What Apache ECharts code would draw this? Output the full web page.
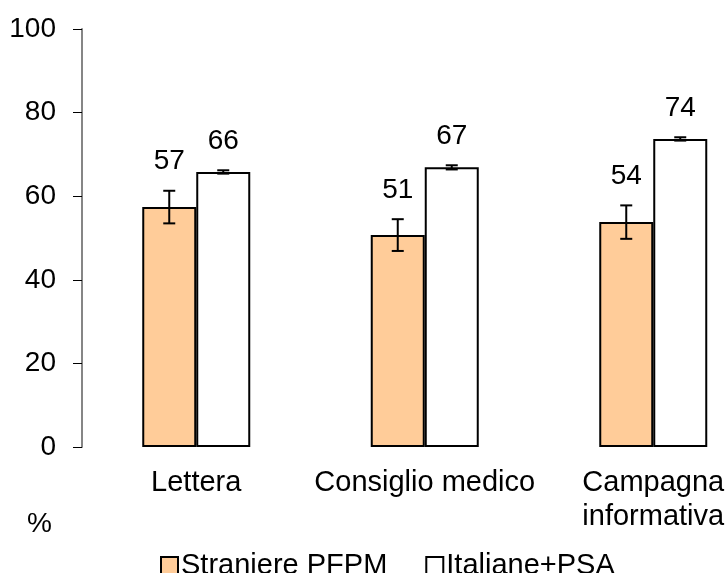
<!DOCTYPE html>
<html>
<head>
<meta charset="utf-8">
<style>html,body{margin:0;padding:0;background:#fff;overflow:hidden;}#chart{width:768px;height:573px;}</style>
<script src="https://cdn.jsdelivr.net/npm/echarts@6/dist/echarts.min.js"></script>
</head>
<body>
<div id="chart"></div>
<script>
const categories = ['Lettera', 'Consiglio medico', 'Campagna\ninformativa'];
const seriesNames = ['Straniere PFPM', 'Italiane+PSA'];
const straniere = [57.4, 50.7, 53.8];
const straniereErr = [3.9, 3.8, 4.0];
const italiane = [65.8, 66.9, 73.7];
const italianeErr = [0.4, 0.5, 0.4];
const yTicks = [0, 20, 40, 60, 80, 100];

const FONT = "'Liberation Sans', Arial, sans-serif";
const BAR_W = 54;

function errSeries(values, errs, offset) {
  return {
    type: 'custom',
    silent: true,
    z: 10,
    data: values.map((v, i) => [i, v, errs[i]]),
    encode: { x: 0, y: 1 },
    renderItem: function (params, api) {
      const i = api.value(0), v = api.value(1), e = api.value(2);
      const top = api.coord([i, v + e]);
      const bot = api.coord([i, v - e]);
      const x = top[0] + offset;
      const cap = 6;
      const st = { stroke: '#000', lineWidth: 2 };
      return {
        type: 'group',
        children: [
          { type: 'line', shape: { x1: x, y1: top[1], x2: x, y2: bot[1] }, style: st },
          { type: 'line', shape: { x1: x - cap, y1: top[1], x2: x + cap, y2: top[1] }, style: st },
          { type: 'line', shape: { x1: x - cap, y1: bot[1], x2: x + cap, y2: bot[1] }, style: st },
          { type: 'text', style: { x: x, y: top[1] - 15, text: String(Math.round(v)), fill: '#000', font: '28px ' + FONT, textAlign: 'center', textVerticalAlign: 'bottom' } }
        ]
      };
    }
  };
}

const chart = echarts.init(document.getElementById('chart'));
chart.setOption({
  animation: false,
  backgroundColor: '#fff',
  textStyle: { fontFamily: FONT, color: '#000' },
  grid: { left: 82, top: 29, bottom: 126, right: 0.5, containLabel: false },
  legend: {
    data: seriesNames,
    left: 155, top: 546,
    icon: 'rect', itemWidth: 17, itemHeight: 17, itemGap: 38,
    textStyle: { fontSize: 29, fontFamily: FONT, color: '#000', padding: [0, 0, 0, -2] }
  },
  xAxis: {
    type: 'category',
    data: categories,
    axisLine: { show: false },
    axisTick: { show: false },
    axisLabel: { interval: 0, fontSize: 29, color: '#000', margin: 19, lineHeight: 34, fontFamily: FONT }
  },
  yAxis: {
    type: 'value',
    min: 0, max: 100, interval: 20,
    axisLine: { show: true, lineStyle: { color: '#868686', width: 2 } },
    axisTick: { show: true, length: 9, lineStyle: { color: '#000', width: 1 } },
    splitLine: { show: false },
    axisLabel: { fontSize: 28, color: '#000', margin: 26, fontFamily: FONT,
      formatter: v => yTicks.includes(v) ? String(v) : '' }
  },
  graphic: [
    { type: 'text', left: 27, top: 510, style: { text: '%', font: '28px ' + FONT, fill: '#000' } }
  ],
  series: [
    { name: seriesNames[0], type: 'bar', data: straniere, barWidth: BAR_W, barGap: '0%',
      itemStyle: { color: '#FFCC99', borderColor: '#000', borderWidth: 2 } },
    { name: seriesNames[1], type: 'bar', data: italiane, barWidth: BAR_W, barGap: '0%',
      itemStyle: { color: '#FFFFFF', borderColor: '#000', borderWidth: 2 } },
    errSeries(straniere, straniereErr, -BAR_W / 2),
    errSeries(italiane, italianeErr, BAR_W / 2)
  ]
});
</script>
</body>
</html>
